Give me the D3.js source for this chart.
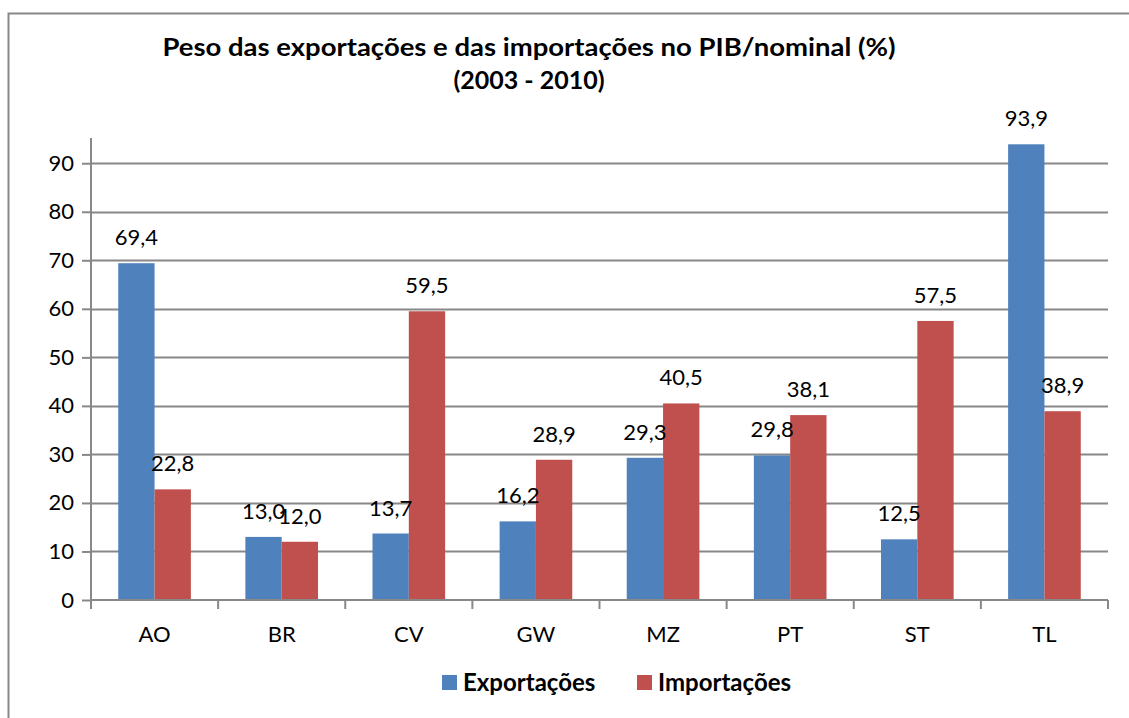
<!DOCTYPE html>
<html lang="pt">
<head>
<meta charset="UTF-8">
<title>Peso das exportações e das importações no PIB/nominal</title>
<script src="https://d3js.org/d3.v7.min.js"></script>
<style>
  body { margin: 0; background: #fff; }
  svg text { font-family: Lato, "Open Sans", sans-serif; fill: #000; }
</style>
</head>
<body>
<div id="chart"></div>
<script>
// data
var countries = ["AO", "BR", "CV", "GW", "MZ", "PT", "ST", "TL"];
var exportacoes = [69.4, 13.0, 13.7, 16.2, 29.3, 29.8, 12.5, 93.9];
var importacoes = [22.8, 12.0, 59.5, 28.9, 40.5, 38.1, 57.5, 38.9];
var seriesNames = ["Exportações", "Importações"];
var yTicks = [0, 10, 20, 30, 40, 50, 60, 70, 80, 90];

var W = 1129, H = 718;
var plot = {left: 91, right: 1108, top: 138, bottom: 600};
var colors = ["#4F81BD", "#C0504D"];
var fmt = function(v) { return v.toFixed(1).replace(".", ","); };

var svg = d3.select("#chart").append("svg")
    .attr("width", W).attr("height", H);

// outer chart frame (right/bottom edge cut off in the original)
svg.append("path")
    .attr("d", "M8.5," + (H + 2) + "V13.5H" + (W + 2))
    .attr("fill", "none")
    .attr("stroke", "#888")
    .attr("stroke-width", 2);

// title
var title = svg.append("text")
    .attr("text-anchor", "middle")
    .style("font-size", "25px")
    .style("font-weight", 700);
title.append("tspan").attr("x", 529).attr("y", 56)
    .attr("textLength", 733).attr("lengthAdjust", "spacingAndGlyphs")
    .text("Peso das exportações e das importações no PIB/nominal (%)");
title.append("tspan").attr("x", 529).attr("y", 89)
    .text("(2003 - 2010)");

var x = d3.scaleBand()
    .domain(countries)
    .range([plot.left, plot.right]);

var xSub = d3.scaleBand()
    .domain(seriesNames)
    .range([0, x.bandwidth()])
    .paddingInner(0)
    .paddingOuter(0.75);

var y = d3.scaleLinear()
    .domain([0, 95.2])
    .range([plot.bottom, plot.top]);

// gridlines
svg.append("g")
    .selectAll("line")
    .data(yTicks.slice(1))
    .enter().append("line")
    .attr("x1", plot.left).attr("x2", plot.right)
    .attr("y1", function(d) { return Math.round(y(d)) + 0.5; })
    .attr("y2", function(d) { return Math.round(y(d)) + 0.5; })
    .attr("stroke", "#888")
    .attr("stroke-width", 2);

// bars
var data = countries.map(function(c, i) {
    return {country: c, values: [
        {key: seriesNames[0], value: exportacoes[i], color: colors[0]},
        {key: seriesNames[1], value: importacoes[i], color: colors[1]}
    ]};
});

var groups = svg.append("g")
    .selectAll("g")
    .data(data)
    .enter().append("g")
    .attr("transform", function(d) { return "translate(" + x(d.country) + ",0)"; });

groups.selectAll("rect")
    .data(function(d) { return d.values; })
    .enter().append("rect")
    .attr("x", function(d) { return xSub(d.key); })
    .attr("width", xSub.bandwidth())
    .attr("y", function(d) { return y(d.value); })
    .attr("height", function(d) { return y(0) - y(d.value); })
    .attr("fill", function(d) { return d.color; });

groups.selectAll("text")
    .data(function(d) { return d.values; })
    .enter().append("text")
    .attr("x", function(d) { return xSub(d.key) + xSub.bandwidth() / 2; })
    .attr("y", function(d) { return y(d.value) - 18; })
    .attr("text-anchor", "middle")
    .style("font-size", "22px")
    .text(function(d) { return fmt(d.value); });

// y axis
var yAxis = svg.append("g")
    .attr("transform", "translate(" + plot.left + ",0)")
    .call(d3.axisLeft(y).tickValues(yTicks).tickSize(9).tickPadding(8));
yAxis.select(".domain").attr("stroke", "#888").attr("stroke-width", 2)
    .attr("d", "M0," + plot.top + "V" + plot.bottom);
yAxis.selectAll(".tick line").attr("stroke", "#888").attr("stroke-width", 2);
yAxis.selectAll(".tick text").style("font-size", "22px").attr("fill", "#000");

// x axis
var xAxis = svg.append("g")
    .attr("transform", "translate(0," + plot.bottom + ")")
    .call(d3.axisBottom(x).tickSize(0).tickPadding(26));
xAxis.select(".domain").attr("stroke", "#888").attr("stroke-width", 2)
    .attr("d", "M" + plot.left + ",0H" + plot.right);
xAxis.selectAll(".tick text").style("font-size", "22px").attr("fill", "#000");
// category separators
xAxis.append("g").selectAll("line")
    .data(countries.concat(["end"]))
    .enter().append("line")
    .attr("x1", function(d, i) { return plot.left + i * x.bandwidth(); })
    .attr("x2", function(d, i) { return plot.left + i * x.bandwidth(); })
    .attr("y1", 0).attr("y2", 9)
    .attr("stroke", "#888").attr("stroke-width", 2);

// legend
var legend = svg.append("g");
var legendX = [442, 637];
seriesNames.forEach(function(name, i) {
    legend.append("rect")
        .attr("x", legendX[i]).attr("y", 675)
        .attr("width", 15).attr("height", 15)
        .attr("fill", colors[i]);
    legend.append("text")
        .attr("x", legendX[i] + 21).attr("y", 691)
        .style("font-size", "24px")
        .style("font-weight", 700)
        .text(name);
});
</script>
</body>
</html>
